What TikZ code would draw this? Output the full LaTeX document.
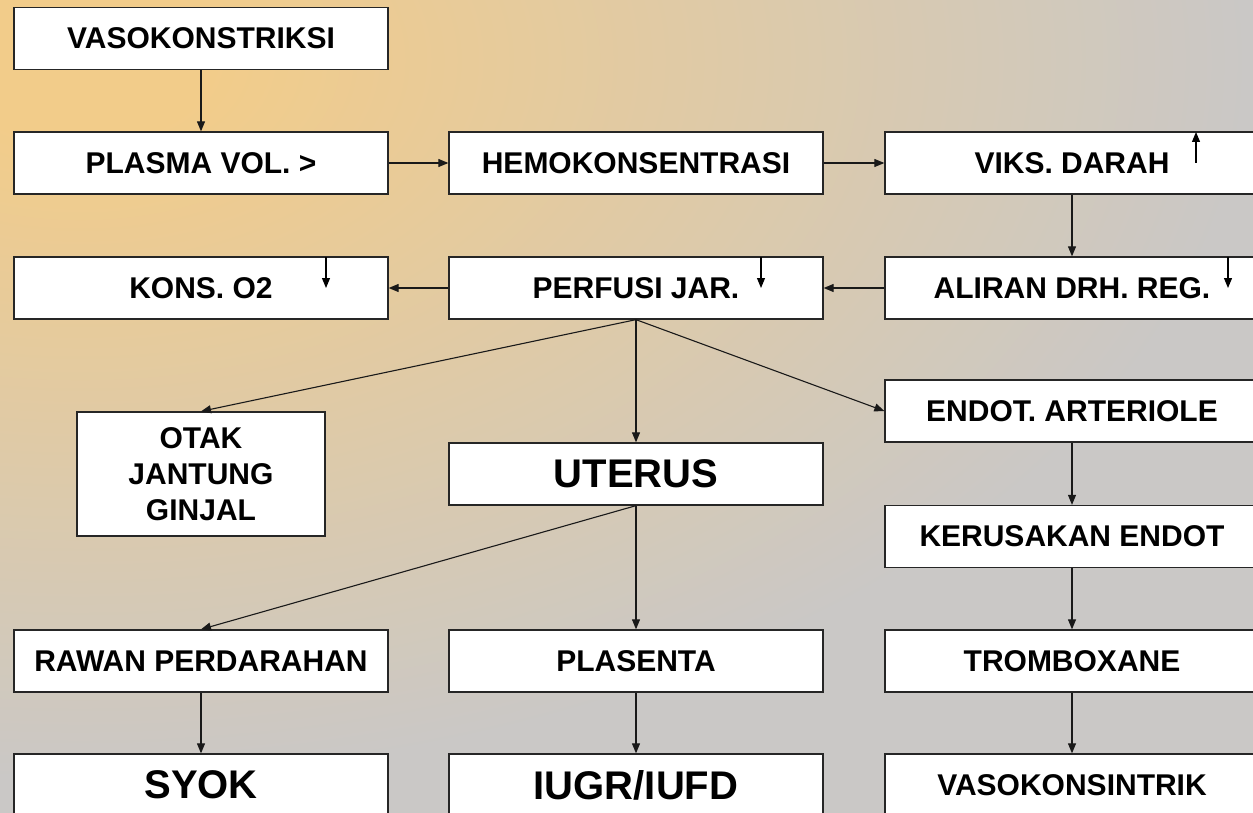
\documentclass[tikz,border=0pt]{standalone}
\usepackage{fontspec}
\setmainfont{Liberation Sans}
\usetikzlibrary{arrows.meta}
\definecolor{bgorange}{HTML}{F2CC8A}
\definecolor{bggray}{HTML}{CAC8C6}
\pgfdeclareradialshading{bgshade}{\pgfpoint{0bp}{0bp}}{color(0bp)=(bgorange); color(2.5bp)=(bgorange); color(22.5bp)=(bggray); color(25bp)=(bggray); color(50bp)=(bggray)}
\tikzset{
  box/.style={draw=black!85, line width=1.3pt, fill=white, minimum width=374pt, minimum height=62pt, inner sep=0pt, font=\bfseries\fontsize{30}{36}\selectfont},
  bigbox/.style={box, font=\bfseries\fontsize{40}{48}\selectfont},
  conn/.style={draw=black!90, line width=1.1pt, -{Triangle[length=10pt,width=8pt]}},
  ind/.style={draw=black, line width=1.1pt, -{Triangle[length=10pt,width=8pt]}}
}
\begin{document}
\begin{tikzpicture}[x=1pt,y=-1pt]
\clip (0,0) rectangle (1253,813);
\fill[bggray] (0,0) rectangle (1253,813);
\shade[shading=bgshade] (80,60) ellipse [x radius=1300, y radius=800];
% nodes
\node[box] (vaso) at (201,38.5) {VASOKONSTRIKSI};
\node[box] (plasma) at (201,163) {PLASMA VOL. >};
\node[box] (hemo) at (636,163) {HEMOKONSENTRASI};
\node[box] (viks) at (1072,163) {VIKS. DARAH};
\node[box] (kons) at (201,288) {KONS. O2};
\node[box] (perf) at (636,288) {PERFUSI JAR.};
\node[box] (aliran) at (1072,288) {ALIRAN DRH. REG.};
\node[box, minimum width=248pt, minimum height=124pt, align=center] (otak) at (201,474) {OTAK\\JANTUNG\\GINJAL};
\node[bigbox] (uterus) at (636,474) {UTERUS};
\node[box] (endot) at (1072,411) {ENDOT. ARTERIOLE};
\node[box] (kerus) at (1072,536.5) {KERUSAKAN ENDOT};
\node[box] (rawan) at (201,661) {RAWAN PERDARAHAN};
\node[box] (plas) at (636,661) {PLASENTA};
\node[box] (trom) at (1072,661) {TROMBOXANE};
\node[bigbox] (syok) at (201,785) {SYOK};
\node[bigbox] (iugr) at (636,785) {IUGR/IUFD};
\node[box] (vasok) at (1072,785) {VASOKONSINTRIK};
% connectors
\draw[conn] (vaso.south) -- (plasma.north);
\draw[conn] (plasma.east) -- (hemo.west);
\draw[conn] (hemo.east) -- (viks.west);
\draw[conn] (viks.south) -- (aliran.north);
\draw[conn] (aliran.west) -- (perf.east);
\draw[conn] (perf.west) -- (kons.east);
\draw[conn] (perf.south) -- (otak.north);
\draw[conn] (perf.south) -- (uterus.north);
\draw[conn] (perf.south) -- (endot.west);
\draw[conn] (endot.south) -- (kerus.north);
\draw[conn] (kerus.south) -- (trom.north);
\draw[conn] (trom.south) -- (vasok.north);
\draw[conn] (uterus.south) -- (rawan.north);
\draw[conn] (uterus.south) -- (plas.north);
\draw[conn] (rawan.south) -- (syok.north);
\draw[conn] (plas.south) -- (iugr.north);
% indicator arrows
\coordinate (k1) at (326,257); \coordinate (k2) at (326,288);
\coordinate (p1) at (761,257); \coordinate (p2) at (761,288);
\coordinate (a1) at (1228,257); \coordinate (a2) at (1228,288);
\coordinate (v1) at (1196,163); \coordinate (v2) at (1196,132);
\draw[ind] (k1) -- (k2);
\draw[ind] (p1) -- (p2);
\draw[ind] (a1) -- (a2);
\draw[ind] (v1) -- (v2);
\end{tikzpicture}
\end{document}
